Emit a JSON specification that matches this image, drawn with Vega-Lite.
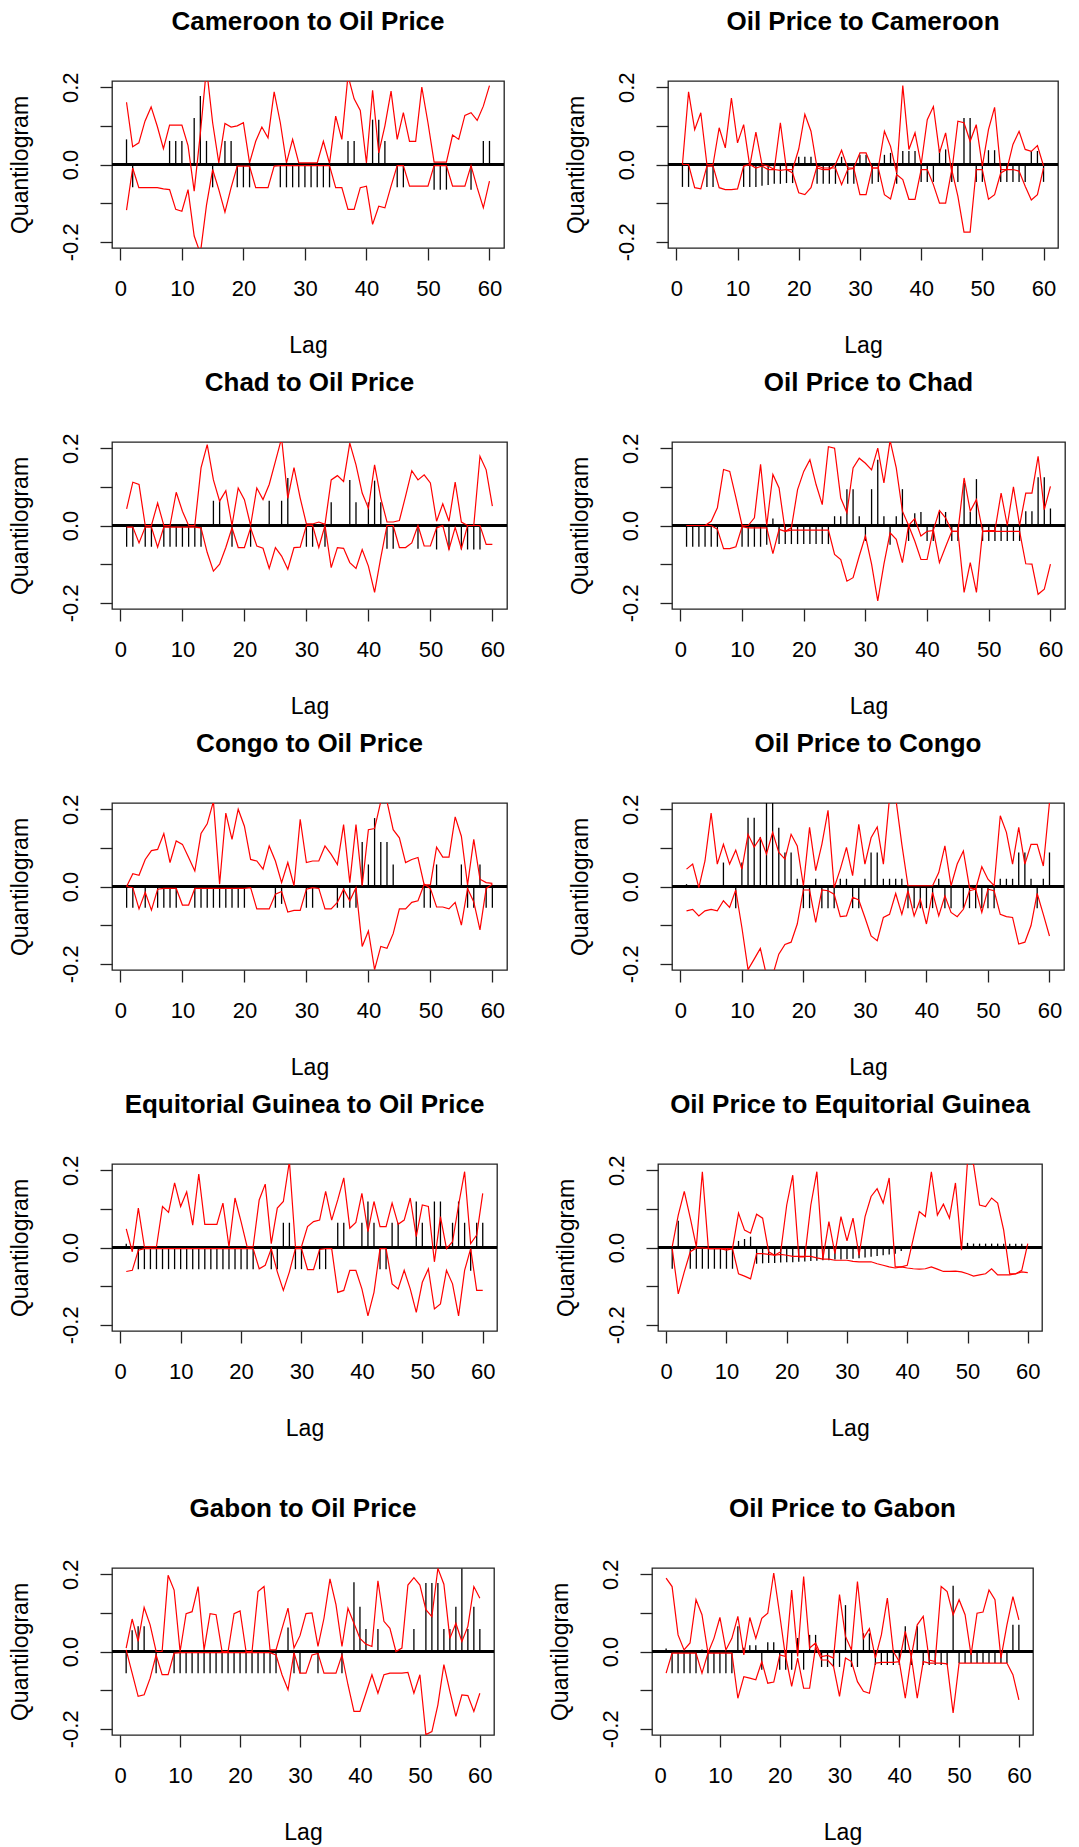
{
"$schema":"https://vega.github.io/schema/vega-lite/v6.json",
"background":"white",
"padding":{"left":8,"top":8,"right":0,"bottom":0},
"data":{"values":[
{"p":1,"l":1,"q":0.065,"u":0.161,"d":-0.118},{"p":1,"l":2,"q":-0.059,"u":0.046,"d":-0.009},{"p":1,"l":3,"q":0.003,"u":0.056,"d":-0.06},{"p":1,"l":4,"q":0.003,"u":0.112,"d":-0.06},{"p":1,"l":5,"q":0.003,"u":0.149,"d":-0.06},{"p":1,"l":6,"q":0.003,"u":0.099,"d":-0.06},{"p":1,"l":7,"q":0.003,"u":0.041,"d":-0.063},{"p":1,"l":8,"q":0.061,"u":0.102,"d":-0.065},{"p":1,"l":9,"q":0.061,"u":0.102,"d":-0.116},{"p":1,"l":10,"q":0.061,"u":0.102,"d":-0.121},
{"p":1,"l":11,"q":0.003,"u":0.049,"d":-0.065},{"p":1,"l":12,"q":0.12,"u":-0.069,"d":-0.185},{"p":1,"l":13,"q":0.177,"u":0.08,"d":-0.23},{"p":1,"l":14,"q":0.061,"u":0.25,"d":-0.105},{"p":1,"l":15,"q":-0.059,"u":0.108,"d":-0.013},{"p":1,"l":16,"q":0,"u":0.004,"d":-0.065},{"p":1,"l":17,"q":0.061,"u":0.106,"d":-0.123},{"p":1,"l":18,"q":0.061,"u":0.097,"d":-0.06},{"p":1,"l":19,"q":-0.059,"u":0.1,"d":-0.004},{"p":1,"l":20,"q":-0.059,"u":0.108,"d":-0.004},
{"p":1,"l":21,"q":-0.059,"u":0.004,"d":-0.004},{"p":1,"l":22,"q":0.003,"u":0.06,"d":-0.06},{"p":1,"l":23,"q":0.003,"u":0.097,"d":-0.06},{"p":1,"l":24,"q":0.003,"u":0.069,"d":-0.06},{"p":1,"l":25,"q":0.003,"u":0.188,"d":-0.004},{"p":1,"l":26,"q":-0.059,"u":0.108,"d":-0.003},{"p":1,"l":27,"q":-0.059,"u":0.004,"d":-0.003},{"p":1,"l":28,"q":-0.059,"u":0.065,"d":-0.003},{"p":1,"l":29,"q":-0.059,"u":0.004,"d":-0.003},{"p":1,"l":30,"q":-0.059,"u":0.004,"d":-0.003},
{"p":1,"l":31,"q":-0.059,"u":0.004,"d":-0.003},{"p":1,"l":32,"q":-0.059,"u":0.004,"d":-0.003},{"p":1,"l":33,"q":-0.059,"u":0.06,"d":-0.003},{"p":1,"l":34,"q":-0.059,"u":0.003,"d":-0.003},{"p":1,"l":35,"q":0,"u":0.125,"d":-0.06},{"p":1,"l":36,"q":0,"u":0.065,"d":-0.06},{"p":1,"l":37,"q":0.061,"u":0.23,"d":-0.116},{"p":1,"l":38,"q":0.061,"u":0.17,"d":-0.116},{"p":1,"l":39,"q":0,"u":0.14,"d":-0.06},{"p":1,"l":40,"q":0,"u":0.004,"d":-0.056},
{"p":1,"l":41,"q":0.116,"u":0.192,"d":-0.155},{"p":1,"l":42,"q":0.116,"u":0.03,"d":-0.108},{"p":1,"l":43,"q":0.061,"u":0.1,"d":-0.112},{"p":1,"l":44,"q":0,"u":0.19,"d":-0.056},{"p":1,"l":45,"q":-0.059,"u":0.065,"d":-0.003},{"p":1,"l":46,"q":-0.059,"u":0.134,"d":-0.003},{"p":1,"l":47,"q":0,"u":0.06,"d":-0.056},{"p":1,"l":48,"q":0,"u":0.06,"d":-0.056},{"p":1,"l":49,"q":0,"u":0.2,"d":-0.056},{"p":1,"l":50,"q":0,"u":0.108,"d":-0.056},
{"p":1,"l":51,"q":-0.065,"u":0.006,"d":-0.003},{"p":1,"l":52,"q":-0.065,"u":0.006,"d":-0.003},{"p":1,"l":53,"q":-0.065,"u":0.006,"d":-0.003},{"p":1,"l":54,"q":0,"u":0.076,"d":-0.056},{"p":1,"l":55,"q":-0.003,"u":0.065,"d":-0.056},{"p":1,"l":56,"q":-0.003,"u":0.127,"d":-0.056},{"p":1,"l":57,"q":-0.065,"u":0.134,"d":-0.003},{"p":1,"l":58,"q":-0.003,"u":0.114,"d":-0.06},{"p":1,"l":59,"q":0.061,"u":0.151,"d":-0.112},{"p":1,"l":60,"q":0.061,"u":0.204,"d":-0.043},
{"p":2,"l":1,"q":-0.058,"u":0,"d":0},{"p":2,"l":2,"q":-0.058,"u":0.188,"d":0},{"p":2,"l":3,"q":0.003,"u":0.09,"d":-0.06},{"p":2,"l":4,"q":0.003,"u":0.134,"d":-0.063},{"p":2,"l":5,"q":-0.058,"u":0,"d":-0.004},{"p":2,"l":6,"q":-0.058,"u":0,"d":-0.004},{"p":2,"l":7,"q":0.003,"u":0.095,"d":-0.06},{"p":2,"l":8,"q":0.003,"u":0.043,"d":-0.065},{"p":2,"l":9,"q":0.003,"u":0.172,"d":-0.065},{"p":2,"l":10,"q":0.003,"u":0.056,"d":-0.063},
{"p":2,"l":11,"q":-0.058,"u":0.103,"d":-0.004},{"p":2,"l":12,"q":-0.058,"u":-0.004,"d":0},{"p":2,"l":13,"q":-0.058,"u":0.084,"d":-0.009},{"p":2,"l":14,"q":-0.055,"u":0,"d":-0.004},{"p":2,"l":15,"q":-0.053,"u":-0.004,"d":-0.013},{"p":2,"l":16,"q":-0.05,"u":-0.013,"d":-0.013},{"p":2,"l":17,"q":-0.05,"u":0.108,"d":-0.015},{"p":2,"l":18,"q":-0.048,"u":-0.013,"d":-0.013},{"p":2,"l":19,"q":-0.048,"u":-0.013,"d":-0.022},{"p":2,"l":20,"q":0.02,"u":0.04,"d":-0.073},
{"p":2,"l":21,"q":0.02,"u":0.13,"d":-0.078},{"p":2,"l":22,"q":0.02,"u":0.086,"d":-0.06},{"p":2,"l":23,"q":-0.05,"u":-0.009,"d":-0.004},{"p":2,"l":24,"q":-0.05,"u":-0.013,"d":-0.009},{"p":2,"l":25,"q":-0.05,"u":-0.013,"d":-0.009},{"p":2,"l":26,"q":-0.05,"u":0,"d":-0.009},{"p":2,"l":27,"q":0.02,"u":0.037,"d":-0.052},{"p":2,"l":28,"q":-0.05,"u":-0.009,"d":-0.013},{"p":2,"l":29,"q":-0.05,"u":-0.009,"d":-0.01},{"p":2,"l":30,"q":0.025,"u":0.03,"d":-0.078},
{"p":2,"l":31,"q":0.025,"u":0.03,"d":-0.078},{"p":2,"l":32,"q":-0.05,"u":-0.009,"d":-0.009},{"p":2,"l":33,"q":-0.045,"u":-0.009,"d":-0.009},{"p":2,"l":34,"q":0.025,"u":0.086,"d":-0.078},{"p":2,"l":35,"q":0.03,"u":0.047,"d":-0.089},{"p":2,"l":36,"q":-0.05,"u":-0.022,"d":-0.026},{"p":2,"l":37,"q":0.035,"u":0.204,"d":-0.039},{"p":2,"l":38,"q":0.035,"u":0.039,"d":-0.09},{"p":2,"l":39,"q":0.035,"u":0.082,"d":-0.09},{"p":2,"l":40,"q":-0.045,"u":0,"d":-0.013},
{"p":2,"l":41,"q":-0.045,"u":0.116,"d":-0.013},{"p":2,"l":42,"q":-0.045,"u":0.15,"d":-0.052},{"p":2,"l":43,"q":0.039,"u":0.03,"d":-0.1},{"p":2,"l":44,"q":0.039,"u":0.082,"d":-0.1},{"p":2,"l":45,"q":-0.045,"u":-0.02,"d":-0.013},{"p":2,"l":46,"q":-0.045,"u":0.112,"d":-0.082},{"p":2,"l":47,"q":0.12,"u":0.108,"d":-0.175},{"p":2,"l":48,"q":0.12,"u":0.06,"d":-0.175},{"p":2,"l":49,"q":-0.045,"u":0.103,"d":-0.013},{"p":2,"l":50,"q":-0.045,"u":-0.004,"d":-0.013},
{"p":2,"l":51,"q":0.037,"u":0.09,"d":-0.09},{"p":2,"l":52,"q":0.037,"u":0.148,"d":-0.078},{"p":2,"l":53,"q":-0.045,"u":-0.013,"d":-0.022},{"p":2,"l":54,"q":-0.045,"u":-0.013,"d":-0.013},{"p":2,"l":55,"q":-0.045,"u":0.052,"d":-0.013},{"p":2,"l":56,"q":-0.045,"u":0.086,"d":-0.017},{"p":2,"l":57,"q":-0.045,"u":0.039,"d":-0.056},{"p":2,"l":58,"q":0.035,"u":0.034,"d":-0.092},{"p":2,"l":59,"q":0.035,"u":0.049,"d":-0.078},{"p":2,"l":60,"q":-0.045,"u":-0.004,"d":-0.009},
{"p":3,"l":1,"q":-0.055,"u":0.043,"d":-0.004},{"p":3,"l":2,"q":-0.055,"u":0.112,"d":-0.004},{"p":3,"l":3,"q":0.003,"u":0.106,"d":-0.045},{"p":3,"l":4,"q":-0.055,"u":0,"d":-0.004},{"p":3,"l":5,"q":-0.055,"u":0,"d":-0.004},{"p":3,"l":6,"q":0.003,"u":0.058,"d":-0.056},{"p":3,"l":7,"q":-0.055,"u":0,"d":-0.004},{"p":3,"l":8,"q":-0.055,"u":0,"d":-0.004},{"p":3,"l":9,"q":-0.055,"u":0.086,"d":-0.004},{"p":3,"l":10,"q":-0.055,"u":0.037,"d":-0.004},
{"p":3,"l":11,"q":-0.055,"u":0,"d":-0.004},{"p":3,"l":12,"q":-0.055,"u":0,"d":-0.004},{"p":3,"l":13,"q":-0.055,"u":0.149,"d":-0.006},{"p":3,"l":14,"q":0.003,"u":0.209,"d":-0.07},{"p":3,"l":15,"q":0.064,"u":0.118,"d":-0.118},{"p":3,"l":16,"q":0.064,"u":0.063,"d":-0.1},{"p":3,"l":17,"q":0.003,"u":0.09,"d":-0.057},{"p":3,"l":18,"q":-0.055,"u":0,"d":-0.006},{"p":3,"l":19,"q":0.003,"u":0.097,"d":-0.057},{"p":3,"l":20,"q":0.003,"u":0.067,"d":-0.057},
{"p":3,"l":21,"q":-0.055,"u":0,"d":-0.006},{"p":3,"l":22,"q":0.003,"u":0.097,"d":-0.053},{"p":3,"l":23,"q":0.003,"u":0.067,"d":-0.059},{"p":3,"l":24,"q":0.064,"u":0.106,"d":-0.111},{"p":3,"l":25,"q":0.003,"u":0.166,"d":-0.057},{"p":3,"l":26,"q":0.064,"u":0.226,"d":-0.079},{"p":3,"l":27,"q":0.123,"u":0.07,"d":-0.113},{"p":3,"l":28,"q":0.003,"u":0.15,"d":-0.057},{"p":3,"l":29,"q":0,"u":0.071,"d":-0.056},{"p":3,"l":30,"q":-0.055,"u":0.004,"d":0},
{"p":3,"l":31,"q":-0.055,"u":0.004,"d":0},{"p":3,"l":32,"q":0,"u":0.009,"d":-0.057},{"p":3,"l":33,"q":-0.055,"u":0.003,"d":0},{"p":3,"l":34,"q":0.06,"u":0.118,"d":-0.109},{"p":3,"l":35,"q":0,"u":0.129,"d":-0.057},{"p":3,"l":36,"q":0,"u":0.114,"d":-0.059},{"p":3,"l":37,"q":0.118,"u":0.213,"d":-0.096},{"p":3,"l":38,"q":0.06,"u":0.157,"d":-0.111},{"p":3,"l":39,"q":0,"u":0.084,"d":-0.062},{"p":3,"l":40,"q":0.06,"u":0.045,"d":-0.105},
{"p":3,"l":41,"q":0.116,"u":0.157,"d":-0.173},{"p":3,"l":42,"q":0.06,"u":0.071,"d":-0.083},{"p":3,"l":43,"q":-0.06,"u":0.009,"d":0},{"p":3,"l":44,"q":-0.06,"u":0.009,"d":0},{"p":3,"l":45,"q":0,"u":0.013,"d":-0.057},{"p":3,"l":46,"q":0,"u":0.076,"d":-0.057},{"p":3,"l":47,"q":0,"u":0.142,"d":-0.045},{"p":3,"l":48,"q":-0.06,"u":0.118,"d":0},{"p":3,"l":49,"q":0,"u":0.131,"d":-0.053},{"p":3,"l":50,"q":0,"u":0.11,"d":-0.053},
{"p":3,"l":51,"q":-0.062,"u":0.011,"d":-0.006},{"p":3,"l":52,"q":0,"u":0.056,"d":0},{"p":3,"l":53,"q":-0.062,"u":0.011,"d":-0.062},{"p":3,"l":54,"q":0,"u":0.112,"d":-0.005},{"p":3,"l":55,"q":-0.062,"u":0.009,"d":-0.06},{"p":3,"l":56,"q":-0.062,"u":0,"d":0},{"p":3,"l":57,"q":-0.062,"u":0,"d":0},{"p":3,"l":58,"q":-0.062,"u":0.179,"d":0},{"p":3,"l":59,"q":-0.003,"u":0.144,"d":-0.049},{"p":3,"l":60,"q":-0.003,"u":0.05,"d":-0.049},
{"p":4,"l":1,"q":-0.055,"u":0,"d":0},{"p":4,"l":2,"q":-0.055,"u":0,"d":0},{"p":4,"l":3,"q":-0.055,"u":0,"d":0},{"p":4,"l":4,"q":-0.055,"u":0,"d":0},{"p":4,"l":5,"q":-0.055,"u":0.011,"d":0},{"p":4,"l":6,"q":-0.055,"u":0.046,"d":-0.01},{"p":4,"l":7,"q":0.003,"u":0.145,"d":-0.06},{"p":4,"l":8,"q":0.003,"u":0.14,"d":-0.06},{"p":4,"l":9,"q":0.003,"u":0.072,"d":-0.055},{"p":4,"l":10,"q":-0.055,"u":0,"d":-0.003},
{"p":4,"l":11,"q":-0.055,"u":0,"d":-0.006},{"p":4,"l":12,"q":-0.055,"u":0.02,"d":-0.006},{"p":4,"l":13,"q":-0.055,"u":0.158,"d":-0.006},{"p":4,"l":14,"q":-0.05,"u":0,"d":-0.006},{"p":4,"l":15,"q":0.018,"u":0.132,"d":-0.073},{"p":4,"l":16,"q":-0.048,"u":0.097,"d":-0.01},{"p":4,"l":17,"q":-0.048,"u":-0.015,"d":-0.015},{"p":4,"l":18,"q":-0.048,"u":-0.006,"d":-0.012},{"p":4,"l":19,"q":-0.048,"u":0.093,"d":-0.012},{"p":4,"l":20,"q":-0.048,"u":0.14,"d":-0.012},
{"p":4,"l":21,"q":-0.048,"u":0.17,"d":-0.012},{"p":4,"l":22,"q":-0.048,"u":0.106,"d":-0.012},{"p":4,"l":23,"q":-0.048,"u":0.054,"d":-0.012},{"p":4,"l":24,"q":-0.048,"u":0.204,"d":-0.012},{"p":4,"l":25,"q":0.024,"u":0.2,"d":-0.075},{"p":4,"l":26,"q":0.024,"u":0.071,"d":-0.088},{"p":4,"l":27,"q":0.094,"u":0.033,"d":-0.144},{"p":4,"l":28,"q":0.094,"u":0.149,"d":-0.135},{"p":4,"l":29,"q":0.024,"u":0.174,"d":-0.079},{"p":4,"l":30,"q":-0.04,"u":0.161,"d":-0.027},
{"p":4,"l":31,"q":0.094,"u":0.144,"d":-0.1},{"p":4,"l":32,"q":0.17,"u":0.2,"d":-0.195},{"p":4,"l":33,"q":0.024,"u":0.11,"d":-0.1},{"p":4,"l":34,"q":-0.05,"u":0.22,"d":-0.019},{"p":4,"l":35,"q":0.024,"u":0.149,"d":-0.036},{"p":4,"l":36,"q":0.094,"u":0.037,"d":-0.096},{"p":4,"l":37,"q":-0.04,"u":0,"d":0},{"p":4,"l":38,"q":0.032,"u":0.018,"d":-0.04},{"p":4,"l":39,"q":0.035,"u":-0.027,"d":-0.088},{"p":4,"l":40,"q":-0.04,"u":-0.015,"d":-0.088},
{"p":4,"l":41,"q":-0.04,"u":-0.013,"d":-0.01},{"p":4,"l":42,"q":0.035,"u":0.039,"d":-0.096},{"p":4,"l":43,"q":0.035,"u":0.02,"d":-0.055},{"p":4,"l":44,"q":-0.04,"u":-0.015,"d":-0.015},{"p":4,"l":45,"q":-0.04,"u":-0.015,"d":-0.015},{"p":4,"l":46,"q":0.11,"u":0.123,"d":-0.173},{"p":4,"l":47,"q":0.035,"u":0.037,"d":-0.096},{"p":4,"l":48,"q":0.12,"u":0.067,"d":-0.173},{"p":4,"l":49,"q":-0.04,"u":-0.015,"d":-0.015},{"p":4,"l":50,"q":-0.04,"u":-0.013,"d":-0.015},
{"p":4,"l":51,"q":-0.04,"u":-0.013,"d":-0.015},{"p":4,"l":52,"q":-0.04,"u":0.084,"d":-0.015},{"p":4,"l":53,"q":-0.04,"u":0,"d":-0.015},{"p":4,"l":54,"q":-0.04,"u":0.1,"d":-0.015},{"p":4,"l":55,"q":-0.04,"u":0,"d":-0.015},{"p":4,"l":56,"q":0.037,"u":0.084,"d":-0.099},{"p":4,"l":57,"q":0.037,"u":0.084,"d":-0.1},{"p":4,"l":58,"q":0.125,"u":0.179,"d":-0.178},{"p":4,"l":59,"q":0.125,"u":0.041,"d":-0.165},{"p":4,"l":60,"q":0.044,"u":0.101,"d":-0.1},
{"p":5,"l":1,"q":-0.055,"u":0,"d":0},{"p":5,"l":2,"q":-0.055,"u":0.033,"d":-0.003},{"p":5,"l":3,"q":0.003,"u":0.029,"d":-0.058},{"p":5,"l":4,"q":-0.055,"u":0.07,"d":-0.015},{"p":5,"l":5,"q":0.003,"u":0.093,"d":-0.061},{"p":5,"l":6,"q":-0.055,"u":0.096,"d":-0.007},{"p":5,"l":7,"q":-0.055,"u":0.137,"d":-0.005},{"p":5,"l":8,"q":-0.055,"u":0.062,"d":-0.005},{"p":5,"l":9,"q":-0.055,"u":0.118,"d":-0.005},{"p":5,"l":10,"q":0.003,"u":0.109,"d":-0.048},
{"p":5,"l":11,"q":0.003,"u":0.075,"d":-0.048},{"p":5,"l":12,"q":-0.055,"u":0.04,"d":-0.005},{"p":5,"l":13,"q":-0.055,"u":0.137,"d":-0.005},{"p":5,"l":14,"q":-0.055,"u":0.162,"d":-0.005},{"p":5,"l":15,"q":-0.055,"u":0.22,"d":-0.005},{"p":5,"l":16,"q":-0.055,"u":0.006,"d":-0.005},{"p":5,"l":17,"q":-0.055,"u":0.19,"d":-0.005},{"p":5,"l":18,"q":-0.055,"u":0.122,"d":-0.005},{"p":5,"l":19,"q":-0.055,"u":0.2,"d":-0.005},{"p":5,"l":20,"q":-0.055,"u":0.156,"d":-0.005},
{"p":5,"l":21,"q":0.003,"u":0.07,"d":-0.003},{"p":5,"l":22,"q":0.003,"u":0.066,"d":-0.058},{"p":5,"l":23,"q":0.003,"u":0.045,"d":-0.058},{"p":5,"l":24,"q":0.003,"u":0.105,"d":-0.058},{"p":5,"l":25,"q":-0.055,"u":0.066,"d":-0.02},{"p":5,"l":26,"q":-0.045,"u":0.01,"d":-0.013},{"p":5,"l":27,"q":0.003,"u":0.062,"d":-0.066},{"p":5,"l":28,"q":0,"u":0.002,"d":-0.062},{"p":5,"l":29,"q":0,"u":0.174,"d":-0.062},{"p":5,"l":30,"q":-0.055,"u":0.062,"d":-0.007},
{"p":5,"l":31,"q":-0.055,"u":0.066,"d":-0.003},{"p":5,"l":32,"q":0,"u":0.066,"d":-0.005},{"p":5,"l":33,"q":0,"u":0.105,"d":-0.058},{"p":5,"l":34,"q":0,"u":0.083,"d":-0.058},{"p":5,"l":35,"q":-0.055,"u":0.057,"d":-0.041},{"p":5,"l":36,"q":-0.055,"u":0.16,"d":-0.007},{"p":5,"l":37,"q":-0.055,"u":0.01,"d":-0.037},{"p":5,"l":38,"q":-0.055,"u":0.16,"d":-0.003},{"p":5,"l":39,"q":0.115,"u":0.002,"d":-0.155},{"p":5,"l":40,"q":0.057,"u":0.147,"d":-0.115},
{"p":5,"l":41,"q":0.177,"u":0.15,"d":-0.215},{"p":5,"l":42,"q":0.115,"u":0.22,"d":-0.155},{"p":5,"l":43,"q":0.115,"u":0.22,"d":-0.16},{"p":5,"l":44,"q":0.057,"u":0.147,"d":-0.122},{"p":5,"l":45,"q":0,"u":0.126,"d":-0.058},{"p":5,"l":46,"q":0,"u":0.062,"d":-0.058},{"p":5,"l":47,"q":0,"u":0.07,"d":-0.041},{"p":5,"l":48,"q":0,"u":0.075,"d":-0.037},{"p":5,"l":49,"q":-0.055,"u":0.004,"d":0.006},{"p":5,"l":50,"q":-0.055,"u":0.004,"d":-0.005},
{"p":5,"l":51,"q":0.057,"u":0.102,"d":-0.053},{"p":5,"l":52,"q":0,"u":0.076,"d":-0.053},{"p":5,"l":53,"q":0,"u":0.076,"d":-0.058},{"p":5,"l":54,"q":0,"u":0.18,"d":-0.041},{"p":5,"l":55,"q":0.057,"u":0.13,"d":-0.1},{"p":5,"l":56,"q":-0.055,"u":0.004,"d":-0.005},{"p":5,"l":57,"q":-0.055,"u":0.122,"d":-0.04},{"p":5,"l":58,"q":0.057,"u":0.019,"d":-0.112},{"p":5,"l":59,"q":-0.055,"u":0.01,"d":-0.005},{"p":5,"l":60,"q":-0.055,"u":0.008,"d":0.006},
{"p":6,"l":1,"q":0.006,"u":0.045,"d":-0.063},{"p":6,"l":2,"q":0.003,"u":0.058,"d":-0.059},{"p":6,"l":3,"q":0,"u":-0.003,"d":-0.076},{"p":6,"l":4,"q":0.003,"u":0.066,"d":-0.063},{"p":6,"l":5,"q":0.003,"u":0.19,"d":-0.059},{"p":6,"l":6,"q":0.003,"u":0.058,"d":-0.063},{"p":6,"l":7,"q":0.062,"u":0.109,"d":-0.037},{"p":6,"l":8,"q":0.003,"u":0.058,"d":-0.054},{"p":6,"l":9,"q":-0.056,"u":0.094,"d":-0.009},{"p":6,"l":10,"q":0.062,"u":0.045,"d":-0.106},
{"p":6,"l":11,"q":0.178,"u":0.135,"d":-0.215},{"p":6,"l":12,"q":0.178,"u":0.102,"d":-0.188},{"p":6,"l":13,"q":0.128,"u":0.126,"d":-0.16},{"p":6,"l":14,"q":0.22,"u":0.084,"d":-0.23},{"p":6,"l":15,"q":0.22,"u":0.14,"d":-0.23},{"p":6,"l":16,"q":0.152,"u":0.088,"d":-0.175},{"p":6,"l":17,"q":0.088,"u":0.071,"d":-0.15},{"p":6,"l":18,"q":0.088,"u":0.135,"d":-0.144},{"p":6,"l":19,"q":0.02,"u":0.105,"d":-0.097},{"p":6,"l":20,"q":-0.056,"u":0.002,"d":-0.009},
{"p":6,"l":21,"q":-0.056,"u":0.153,"d":-0.009},{"p":6,"l":22,"q":0.02,"u":0.041,"d":-0.093},{"p":6,"l":23,"q":-0.056,"u":0.109,"d":-0.009},{"p":6,"l":24,"q":-0.056,"u":0.197,"d":-0.011},{"p":6,"l":25,"q":-0.056,"u":-0.003,"d":-0.02},{"p":6,"l":26,"q":0.02,"u":0.045,"d":-0.078},{"p":6,"l":27,"q":0.02,"u":0.101,"d":-0.076},{"p":6,"l":28,"q":-0.056,"u":0.028,"d":-0.028},{"p":6,"l":29,"q":-0.056,"u":0.161,"d":-0.035},{"p":6,"l":30,"q":0.02,"u":0.058,"d":-0.08},
{"p":6,"l":31,"q":0.088,"u":0.126,"d":-0.128},{"p":6,"l":32,"q":0.088,"u":0.154,"d":-0.14},{"p":6,"l":33,"q":0.02,"u":0.058,"d":-0.08},{"p":6,"l":34,"q":0.02,"u":0.23,"d":-0.072},{"p":6,"l":35,"q":0.02,"u":0.23,"d":-0.018},{"p":6,"l":36,"q":0.02,"u":0.109,"d":-0.072},{"p":6,"l":37,"q":-0.056,"u":0.002,"d":-0.011},{"p":6,"l":38,"q":-0.056,"u":0.002,"d":-0.076},{"p":6,"l":39,"q":-0.056,"u":0.002,"d":-0.033},{"p":6,"l":40,"q":-0.056,"u":0.002,"d":-0.097},
{"p":6,"l":41,"q":-0.056,"u":0.002,"d":-0.015},{"p":6,"l":42,"q":0.02,"u":0.036,"d":-0.076},{"p":6,"l":43,"q":-0.056,"u":0.105,"d":-0.024},{"p":6,"l":44,"q":-0.056,"u":0.002,"d":-0.067},{"p":6,"l":45,"q":0,"u":0.058,"d":-0.078},{"p":6,"l":46,"q":-0.056,"u":0.092,"d":-0.059},{"p":6,"l":47,"q":-0.056,"u":-0.003,"d":-0.011},{"p":6,"l":48,"q":-0.056,"u":-0.007,"d":-0.007},{"p":6,"l":49,"q":-0.056,"u":0.051,"d":-0.067},{"p":6,"l":50,"q":-0.056,"u":0.019,"d":-0.007},
{"p":6,"l":51,"q":-0.056,"u":0.002,"d":-0.011},{"p":6,"l":52,"q":0.02,"u":0.183,"d":-0.072},{"p":6,"l":53,"q":0.02,"u":0.14,"d":-0.078},{"p":6,"l":54,"q":0.02,"u":0.058,"d":-0.08},{"p":6,"l":55,"q":0.088,"u":0.153,"d":-0.149},{"p":6,"l":56,"q":0.088,"u":0.058,"d":-0.144},{"p":6,"l":57,"q":0.02,"u":0.109,"d":-0.101},{"p":6,"l":58,"q":-0.056,"u":0.109,"d":-0.018},{"p":6,"l":59,"q":0.02,"u":0.053,"d":-0.072},{"p":6,"l":60,"q":0.088,"u":0.217,"d":-0.128},
{"p":7,"l":1,"q":0.01,"u":0.048,"d":-0.062},{"p":7,"l":2,"q":0,"u":-0.011,"d":-0.059},{"p":7,"l":3,"q":-0.056,"u":0.102,"d":-0.007},{"p":7,"l":4,"q":-0.056,"u":0.002,"d":-0.003},{"p":7,"l":5,"q":-0.056,"u":0.002,"d":-0.003},{"p":7,"l":6,"q":-0.056,"u":0.002,"d":-0.003},{"p":7,"l":7,"q":-0.056,"u":0.106,"d":-0.003},{"p":7,"l":8,"q":-0.056,"u":0.091,"d":-0.003},{"p":7,"l":9,"q":-0.056,"u":0.167,"d":-0.003},{"p":7,"l":10,"q":-0.056,"u":0.106,"d":-0.003},
{"p":7,"l":11,"q":-0.056,"u":0.144,"d":-0.003},{"p":7,"l":12,"q":-0.056,"u":0.058,"d":-0.003},{"p":7,"l":13,"q":-0.056,"u":0.19,"d":-0.003},{"p":7,"l":14,"q":-0.056,"u":0.06,"d":-0.003},{"p":7,"l":15,"q":-0.056,"u":0.06,"d":-0.003},{"p":7,"l":16,"q":-0.056,"u":0.06,"d":-0.003},{"p":7,"l":17,"q":-0.056,"u":0.115,"d":-0.003},{"p":7,"l":18,"q":-0.056,"u":0.002,"d":-0.003},{"p":7,"l":19,"q":-0.056,"u":0.128,"d":-0.003},{"p":7,"l":20,"q":-0.056,"u":0.067,"d":-0.003},
{"p":7,"l":21,"q":-0.056,"u":0.002,"d":-0.003},{"p":7,"l":22,"q":-0.056,"u":0.002,"d":-0.003},{"p":7,"l":23,"q":0.003,"u":0.123,"d":-0.055},{"p":7,"l":24,"q":0.003,"u":0.164,"d":-0.046},{"p":7,"l":25,"q":-0.056,"u":0.01,"d":-0.003},{"p":7,"l":26,"q":-0.056,"u":0.102,"d":-0.063},{"p":7,"l":27,"q":0.064,"u":0.119,"d":-0.111},{"p":7,"l":28,"q":0.064,"u":0.223,"d":-0.063},{"p":7,"l":29,"q":-0.056,"u":0.002,"d":-0.003},{"p":7,"l":30,"q":-0.056,"u":0.002,"d":-0.003},
{"p":7,"l":31,"q":0,"u":0.054,"d":-0.057},{"p":7,"l":32,"q":0,"u":0.067,"d":-0.057},{"p":7,"l":33,"q":-0.056,"u":0.071,"d":-0.005},{"p":7,"l":34,"q":-0.056,"u":0.145,"d":-0.003},{"p":7,"l":35,"q":0,"u":0.071,"d":-0.003},{"p":7,"l":36,"q":0.064,"u":0.123,"d":-0.116},{"p":7,"l":37,"q":0.064,"u":0.18,"d":-0.111},{"p":7,"l":38,"q":0,"u":0.05,"d":-0.059},{"p":7,"l":39,"q":0,"u":0.065,"d":-0.059},{"p":7,"l":40,"q":0.064,"u":0.14,"d":-0.107},
{"p":7,"l":41,"q":0.119,"u":0.041,"d":-0.177},{"p":7,"l":42,"q":0.064,"u":0.119,"d":-0.116},{"p":7,"l":43,"q":-0.056,"u":0.054,"d":-0.003},{"p":7,"l":44,"q":-0.056,"u":0.054,"d":-0.003},{"p":7,"l":45,"q":0.064,"u":0.115,"d":-0.094},{"p":7,"l":46,"q":0.064,"u":0.06,"d":-0.107},{"p":7,"l":47,"q":0,"u":0.071,"d":-0.059},{"p":7,"l":48,"q":0,"u":0.128,"d":-0.107},{"p":7,"l":49,"q":0.119,"u":0.028,"d":-0.168},{"p":7,"l":50,"q":0.064,"u":0.11,"d":-0.09},
{"p":7,"l":51,"q":0,"u":0.106,"d":-0.055},{"p":7,"l":52,"q":0.119,"u":-0.037,"d":-0.159},{"p":7,"l":53,"q":0.119,"u":0.08,"d":-0.146},{"p":7,"l":54,"q":0,"u":-0.003,"d":-0.059},{"p":7,"l":55,"q":0.064,"u":0.015,"d":-0.094},{"p":7,"l":56,"q":0.119,"u":0.11,"d":-0.177},{"p":7,"l":57,"q":0.064,"u":0.196,"d":-0.059},{"p":7,"l":58,"q":-0.06,"u":0.01,"d":-0.003},{"p":7,"l":59,"q":0.064,"u":0.032,"d":-0.111},{"p":7,"l":60,"q":0.064,"u":0.14,"d":-0.111},
{"p":8,"l":1,"q":-0.055,"u":0.002,"d":-0.003},{"p":8,"l":2,"q":0.069,"u":0.084,"d":-0.12},{"p":8,"l":3,"q":0.003,"u":0.145,"d":-0.063},{"p":8,"l":4,"q":-0.055,"u":0.076,"d":-0.011},{"p":8,"l":5,"q":-0.055,"u":0.002,"d":-0.001},{"p":8,"l":6,"q":-0.055,"u":0.196,"d":-0.001},{"p":8,"l":7,"q":-0.055,"u":-0.003,"d":-0.003},{"p":8,"l":8,"q":-0.055,"u":-0.003,"d":-0.003},{"p":8,"l":9,"q":-0.055,"u":-0.003,"d":-0.003},{"p":8,"l":10,"q":-0.055,"u":-0.007,"d":-0.003},
{"p":8,"l":11,"q":-0.055,"u":-0.003,"d":-0.003},{"p":8,"l":12,"q":0.017,"u":0.089,"d":-0.068},{"p":8,"l":13,"q":0.022,"u":0.045,"d":-0.074},{"p":8,"l":14,"q":0.028,"u":0.037,"d":-0.081},{"p":8,"l":15,"q":-0.042,"u":0.086,"d":-0.016},{"p":8,"l":16,"q":-0.041,"u":0.076,"d":-0.016},{"p":8,"l":17,"q":-0.04,"u":-0.011,"d":-0.018},{"p":8,"l":18,"q":-0.04,"u":-0.02,"d":-0.02},{"p":8,"l":19,"q":-0.039,"u":-0.011,"d":-0.018},{"p":8,"l":20,"q":-0.038,"u":0.11,"d":-0.02},
{"p":8,"l":21,"q":-0.038,"u":0.187,"d":-0.023},{"p":8,"l":22,"q":-0.037,"u":-0.024,"d":-0.023},{"p":8,"l":23,"q":-0.036,"u":-0.024,"d":-0.023},{"p":8,"l":24,"q":-0.035,"u":0.11,"d":-0.023},{"p":8,"l":25,"q":-0.034,"u":0.196,"d":-0.027},{"p":8,"l":26,"q":-0.033,"u":-0.029,"d":-0.03},{"p":8,"l":27,"q":-0.033,"u":0.067,"d":-0.03},{"p":8,"l":28,"q":-0.031,"u":-0.016,"d":-0.033},{"p":8,"l":29,"q":-0.031,"u":0.08,"d":-0.033},{"p":8,"l":30,"q":-0.03,"u":0.017,"d":-0.033},
{"p":8,"l":31,"q":-0.029,"u":0.076,"d":-0.036},{"p":8,"l":32,"q":-0.028,"u":-0.02,"d":-0.037},{"p":8,"l":33,"q":-0.026,"u":0.08,"d":-0.037},{"p":8,"l":34,"q":-0.024,"u":0.132,"d":-0.037},{"p":8,"l":35,"q":-0.022,"u":0.152,"d":-0.042},{"p":8,"l":36,"q":-0.02,"u":0.115,"d":-0.046},{"p":8,"l":37,"q":-0.018,"u":0.18,"d":-0.05},{"p":8,"l":38,"q":-0.016,"u":-0.05,"d":-0.053},{"p":8,"l":39,"q":-0.009,"u":-0.05,"d":-0.05},{"p":8,"l":40,"q":0,"u":-0.046,"d":-0.053},
{"p":8,"l":41,"q":0,"u":0.023,"d":-0.055},{"p":8,"l":42,"q":0,"u":0.093,"d":-0.056},{"p":8,"l":43,"q":0,"u":0.08,"d":-0.055},{"p":8,"l":44,"q":0,"u":0.196,"d":-0.05},{"p":8,"l":45,"q":0,"u":0.084,"d":-0.056},{"p":8,"l":46,"q":0.003,"u":0.112,"d":-0.062},{"p":8,"l":47,"q":0.003,"u":0.076,"d":-0.062},{"p":8,"l":48,"q":0.003,"u":0.167,"d":-0.061},{"p":8,"l":49,"q":0.005,"u":-0.007,"d":-0.063},{"p":8,"l":50,"q":0.012,"u":0.223,"d":-0.068},
{"p":8,"l":51,"q":0.01,"u":0.215,"d":-0.074},{"p":8,"l":52,"q":0.01,"u":0.11,"d":-0.071},{"p":8,"l":53,"q":0.01,"u":0.106,"d":-0.068},{"p":8,"l":54,"q":0.01,"u":0.128,"d":-0.055},{"p":8,"l":55,"q":0.01,"u":0.115,"d":-0.071},{"p":8,"l":56,"q":0.01,"u":0.045,"d":-0.071},{"p":8,"l":57,"q":0.01,"u":-0.068,"d":-0.071},{"p":8,"l":58,"q":0.01,"u":-0.068,"d":-0.068},{"p":8,"l":59,"q":0.01,"u":-0.059,"d":-0.063},{"p":8,"l":60,"q":0,"u":0.01,"d":-0.065},
{"p":9,"l":1,"q":-0.056,"u":0.009,"d":0.004},{"p":9,"l":2,"q":0.055,"u":0.084,"d":-0.056},{"p":9,"l":3,"q":0.065,"u":0.026,"d":-0.116},{"p":9,"l":4,"q":0.065,"u":0.114,"d":-0.112},{"p":9,"l":5,"q":0.003,"u":0.069,"d":-0.069},{"p":9,"l":6,"q":-0.056,"u":0,"d":-0.009},{"p":9,"l":7,"q":0,"u":0,"d":-0.06},{"p":9,"l":8,"q":0.003,"u":0.197,"d":-0.06},{"p":9,"l":9,"q":-0.056,"u":0.159,"d":-0.004},{"p":9,"l":10,"q":-0.056,"u":0,"d":-0.003},
{"p":9,"l":11,"q":-0.056,"u":0.098,"d":-0.003},{"p":9,"l":12,"q":-0.056,"u":0.103,"d":-0.003},{"p":9,"l":13,"q":-0.056,"u":0.168,"d":-0.003},{"p":9,"l":14,"q":-0.056,"u":0.004,"d":-0.003},{"p":9,"l":15,"q":-0.056,"u":0.098,"d":-0.003},{"p":9,"l":16,"q":-0.056,"u":0.095,"d":-0.003},{"p":9,"l":17,"q":-0.056,"u":0,"d":-0.003},{"p":9,"l":18,"q":-0.056,"u":0,"d":-0.003},{"p":9,"l":19,"q":-0.056,"u":0.098,"d":-0.003},{"p":9,"l":20,"q":-0.056,"u":0.105,"d":-0.003},
{"p":9,"l":21,"q":-0.056,"u":0,"d":-0.003},{"p":9,"l":22,"q":-0.056,"u":0,"d":-0.003},{"p":9,"l":23,"q":-0.056,"u":0.155,"d":-0.003},{"p":9,"l":24,"q":-0.056,"u":0.168,"d":-0.003},{"p":9,"l":25,"q":-0.056,"u":0.004,"d":-0.003},{"p":9,"l":26,"q":-0.056,"u":0.004,"d":-0.009},{"p":9,"l":27,"q":0.003,"u":0.059,"d":-0.06},{"p":9,"l":28,"q":0.062,"u":0.112,"d":-0.099},{"p":9,"l":29,"q":-0.056,"u":0.009,"d":-0.003},{"p":9,"l":30,"q":-0.056,"u":0.041,"d":-0.056},
{"p":9,"l":31,"q":0,"u":0.098,"d":-0.056},{"p":9,"l":32,"q":0,"u":0.1,"d":-0.009},{"p":9,"l":33,"q":-0.056,"u":0.013,"d":-0.005},{"p":9,"l":34,"q":0,"u":0.086,"d":-0.056},{"p":9,"l":35,"q":0,"u":0.188,"d":-0.056},{"p":9,"l":36,"q":0,"u":0.121,"d":-0.056},{"p":9,"l":37,"q":-0.056,"u":0.013,"d":-0.009},{"p":9,"l":38,"q":0,"u":0.112,"d":-0.086},{"p":9,"l":39,"q":0.179,"u":0.073,"d":-0.155},{"p":9,"l":40,"q":0.116,"u":0.034,"d":-0.155},
{"p":9,"l":41,"q":0.058,"u":0.019,"d":-0.108},{"p":9,"l":42,"q":0,"u":0.013,"d":-0.06},{"p":9,"l":43,"q":0.058,"u":0.183,"d":-0.108},{"p":9,"l":44,"q":0,"u":0.078,"d":-0.06},{"p":9,"l":45,"q":0,"u":0.06,"d":-0.056},{"p":9,"l":46,"q":0,"u":0,"d":-0.056},{"p":9,"l":47,"q":0,"u":0.009,"d":-0.056},{"p":9,"l":48,"q":0,"u":0.172,"d":-0.054},{"p":9,"l":49,"q":0.058,"u":0.191,"d":-0.108},{"p":9,"l":50,"q":0,"u":0.172,"d":-0.06},
{"p":9,"l":51,"q":0.177,"u":0.108,"d":-0.215},{"p":9,"l":52,"q":0.177,"u":0.09,"d":-0.207},{"p":9,"l":53,"q":0.177,"u":0.215,"d":-0.138},{"p":9,"l":54,"q":0.058,"u":0.174,"d":-0.034},{"p":9,"l":55,"q":0.058,"u":0.034,"d":-0.103},{"p":9,"l":56,"q":0.116,"u":0.073,"d":-0.168},{"p":9,"l":57,"q":0.215,"u":0.026,"d":-0.112},{"p":9,"l":58,"q":0.058,"u":0.065,"d":-0.114},{"p":9,"l":59,"q":0.116,"u":0.168,"d":-0.155},{"p":9,"l":60,"q":0.058,"u":0.138,"d":-0.108},
{"p":10,"l":1,"q":0.008,"u":0.19,"d":-0.056},{"p":10,"l":2,"q":-0.056,"u":0.168,"d":-0.004},{"p":10,"l":3,"q":-0.056,"u":0.043,"d":-0.004},{"p":10,"l":4,"q":-0.056,"u":0.004,"d":-0.004},{"p":10,"l":5,"q":-0.056,"u":0.022,"d":-0.004},{"p":10,"l":6,"q":-0.056,"u":0.134,"d":-0.004},{"p":10,"l":7,"q":0.005,"u":0.095,"d":-0.056},{"p":10,"l":8,"q":-0.056,"u":-0.004,"d":-0.004},{"p":10,"l":9,"q":-0.056,"u":0.034,"d":-0.004},{"p":10,"l":10,"q":-0.056,"u":0.088,"d":-0.004},
{"p":10,"l":11,"q":-0.056,"u":0.004,"d":-0.004},{"p":10,"l":12,"q":-0.056,"u":0.034,"d":-0.004},{"p":10,"l":13,"q":0.065,"u":0.091,"d":-0.121},{"p":10,"l":14,"q":0.01,"u":-0.009,"d":-0.065},{"p":10,"l":15,"q":0.016,"u":0.088,"d":-0.069},{"p":10,"l":16,"q":0.016,"u":0.034,"d":-0.073},{"p":10,"l":17,"q":-0.047,"u":0.086,"d":-0.026},{"p":10,"l":18,"q":0.024,"u":0.099,"d":-0.082},{"p":10,"l":19,"q":0.024,"u":0.203,"d":-0.079},{"p":10,"l":20,"q":-0.047,"u":0.095,"d":-0.009},
{"p":10,"l":21,"q":-0.047,"u":-0.017,"d":-0.013},{"p":10,"l":22,"q":-0.047,"u":0.159,"d":-0.09},{"p":10,"l":23,"q":0.035,"u":-0.013,"d":-0.017},{"p":10,"l":24,"q":-0.047,"u":0.194,"d":-0.095},{"p":10,"l":25,"q":0.043,"u":0.009,"d":-0.095},{"p":10,"l":26,"q":0.043,"u":0.022,"d":0.013},{"p":10,"l":27,"q":-0.04,"u":-0.013,"d":-0.022},{"p":10,"l":28,"q":-0.04,"u":-0.01,"d":-0.022},{"p":10,"l":29,"q":-0.04,"u":-0.017,"d":-0.039},{"p":10,"l":30,"q":-0.04,"u":0.147,"d":-0.116},
{"p":10,"l":31,"q":0.12,"u":0.039,"d":-0.017},{"p":10,"l":32,"q":-0.04,"u":0.004,"d":-0.026},{"p":10,"l":33,"q":-0.04,"u":0.181,"d":-0.078},{"p":10,"l":34,"q":0.047,"u":0.034,"d":-0.103},{"p":10,"l":35,"q":0.047,"u":0.059,"d":-0.108},{"p":10,"l":36,"q":-0.035,"u":-0.017,"d":-0.03},{"p":10,"l":37,"q":-0.035,"u":0.043,"d":-0.028},{"p":10,"l":38,"q":-0.035,"u":0.138,"d":-0.028},{"p":10,"l":39,"q":-0.035,"u":0,"d":-0.028},{"p":10,"l":40,"q":-0.035,"u":-0.026,"d":-0.026},
{"p":10,"l":41,"q":0.065,"u":0.052,"d":-0.121},{"p":10,"l":42,"q":-0.035,"u":-0.013,"d":-0.013},{"p":10,"l":43,"q":0.065,"u":0.069,"d":-0.121},{"p":10,"l":44,"q":-0.035,"u":0.091,"d":-0.026},{"p":10,"l":45,"q":-0.035,"u":-0.022,"d":-0.03},{"p":10,"l":46,"q":-0.035,"u":-0.026,"d":-0.03},{"p":10,"l":47,"q":-0.035,"u":0.168,"d":-0.03},{"p":10,"l":48,"q":-0.035,"u":0.155,"d":-0.032},{"p":10,"l":49,"q":0.17,"u":0.095,"d":-0.159},{"p":10,"l":50,"q":-0.03,"u":0.134,"d":-0.03},
{"p":10,"l":51,"q":-0.03,"u":0.095,"d":-0.03},{"p":10,"l":52,"q":-0.03,"u":-0.009,"d":-0.03},{"p":10,"l":53,"q":-0.03,"u":0.099,"d":-0.03},{"p":10,"l":54,"q":-0.03,"u":0.102,"d":-0.03},{"p":10,"l":55,"q":-0.03,"u":0.159,"d":-0.03},{"p":10,"l":56,"q":-0.03,"u":0.134,"d":-0.03},{"p":10,"l":57,"q":-0.03,"u":-0.017,"d":-0.03},{"p":10,"l":58,"q":-0.03,"u":0.069,"d":-0.03},{"p":10,"l":59,"q":0.069,"u":0.142,"d":-0.06},{"p":10,"l":60,"q":0.069,"u":0.082,"d":-0.125}
]},
"vconcat":[
{"vconcat":[
{"hconcat":[
{"title":"Cameroon to Oil Price","width":392,"height":167,"transform":[{"filter":"datum.p==1"}],"encoding":{"x":{"field":"l","type":"quantitative","scale":{"domain":[-1.36,62.36],"nice":false,"zero":false},"axis":{"values":[0,10,20,30,40,50,60],"title":"Lag"}}},"layer":[{"mark":{"type":"rule","color":"#000","strokeWidth":1.3,"clip":true},"encoding":{"y":{"field":"q","type":"quantitative","scale":{"domain":[-0.216,0.216],"nice":false,"zero":false},"axis":{"values":[-0.2,-0.1,0,0.1,0.2],"labelExpr":"datum.value < -0.15 ? '-0.2' : datum.value > 0.15 ? '0.2' : abs(datum.value) < 0.01 ? '0.0' : ''","title":"Quantilogram"}},"y2":{"datum":0}}},{"mark":{"type":"rule","color":"#000","strokeWidth":1.5},"encoding":{"y":{"datum":0},"x":{"datum":-1.36},"x2":{"datum":62.36}}},{"mark":{"type":"line","color":"#ff0000","strokeWidth":1.2,"clip":true},"encoding":{"y":{"field":"u","type":"quantitative","title":"Quantilogram"}}},{"mark":{"type":"line","color":"#ff0000","strokeWidth":1.2,"clip":true},"encoding":{"y":{"field":"d","type":"quantitative","title":"Quantilogram"}}}]},
{"title":"Oil Price to Cameroon","width":390,"height":167,"transform":[{"filter":"datum.p==2"}],"encoding":{"x":{"field":"l","type":"quantitative","scale":{"domain":[-1.36,62.36],"nice":false,"zero":false},"axis":{"values":[0,10,20,30,40,50,60],"title":"Lag"}}},"layer":[{"mark":{"type":"rule","color":"#000","strokeWidth":1.3,"clip":true},"encoding":{"y":{"field":"q","type":"quantitative","scale":{"domain":[-0.216,0.216],"nice":false,"zero":false},"axis":{"values":[-0.2,-0.1,0,0.1,0.2],"labelExpr":"datum.value < -0.15 ? '-0.2' : datum.value > 0.15 ? '0.2' : abs(datum.value) < 0.01 ? '0.0' : ''","title":"Quantilogram"}},"y2":{"datum":0}}},{"mark":{"type":"rule","color":"#000","strokeWidth":1.5},"encoding":{"y":{"datum":0},"x":{"datum":-1.36},"x2":{"datum":62.36}}},{"mark":{"type":"line","color":"#ff0000","strokeWidth":1.2,"clip":true},"encoding":{"y":{"field":"u","type":"quantitative","title":"Quantilogram"}}},{"mark":{"type":"line","color":"#ff0000","strokeWidth":1.2,"clip":true},"encoding":{"y":{"field":"d","type":"quantitative","title":"Quantilogram"}}}]}
],"spacing":58},
{"hconcat":[
{"title":"Chad to Oil Price","width":395,"height":167,"transform":[{"filter":"datum.p==3"}],"encoding":{"x":{"field":"l","type":"quantitative","scale":{"domain":[-1.36,62.36],"nice":false,"zero":false},"axis":{"values":[0,10,20,30,40,50,60],"title":"Lag"}}},"layer":[{"mark":{"type":"rule","color":"#000","strokeWidth":1.3,"clip":true},"encoding":{"y":{"field":"q","type":"quantitative","scale":{"domain":[-0.216,0.216],"nice":false,"zero":false},"axis":{"values":[-0.2,-0.1,0,0.1,0.2],"labelExpr":"datum.value < -0.15 ? '-0.2' : datum.value > 0.15 ? '0.2' : abs(datum.value) < 0.01 ? '0.0' : ''","title":"Quantilogram"}},"y2":{"datum":0}}},{"mark":{"type":"rule","color":"#000","strokeWidth":1.5},"encoding":{"y":{"datum":0},"x":{"datum":-1.36},"x2":{"datum":62.36}}},{"mark":{"type":"line","color":"#ff0000","strokeWidth":1.2,"clip":true},"encoding":{"y":{"field":"u","type":"quantitative","title":"Quantilogram"}}},{"mark":{"type":"line","color":"#ff0000","strokeWidth":1.2,"clip":true},"encoding":{"y":{"field":"d","type":"quantitative","title":"Quantilogram"}}}]},
{"title":"Oil Price to Chad","width":393,"height":167,"transform":[{"filter":"datum.p==4"}],"encoding":{"x":{"field":"l","type":"quantitative","scale":{"domain":[-1.36,62.36],"nice":false,"zero":false},"axis":{"values":[0,10,20,30,40,50,60],"title":"Lag"}}},"layer":[{"mark":{"type":"rule","color":"#000","strokeWidth":1.3,"clip":true},"encoding":{"y":{"field":"q","type":"quantitative","scale":{"domain":[-0.216,0.216],"nice":false,"zero":false},"axis":{"values":[-0.2,-0.1,0,0.1,0.2],"labelExpr":"datum.value < -0.15 ? '-0.2' : datum.value > 0.15 ? '0.2' : abs(datum.value) < 0.01 ? '0.0' : ''","title":"Quantilogram"}},"y2":{"datum":0}}},{"mark":{"type":"rule","color":"#000","strokeWidth":1.5},"encoding":{"y":{"datum":0},"x":{"datum":-1.36},"x2":{"datum":62.36}}},{"mark":{"type":"line","color":"#ff0000","strokeWidth":1.2,"clip":true},"encoding":{"y":{"field":"u","type":"quantitative","title":"Quantilogram"}}},{"mark":{"type":"line","color":"#ff0000","strokeWidth":1.2,"clip":true},"encoding":{"y":{"field":"d","type":"quantitative","title":"Quantilogram"}}}]}
],"spacing":59},
{"hconcat":[
{"title":"Congo to Oil Price","width":395,"height":167,"transform":[{"filter":"datum.p==5"}],"encoding":{"x":{"field":"l","type":"quantitative","scale":{"domain":[-1.36,62.36],"nice":false,"zero":false},"axis":{"values":[0,10,20,30,40,50,60],"title":"Lag"}}},"layer":[{"mark":{"type":"rule","color":"#000","strokeWidth":1.3,"clip":true},"encoding":{"y":{"field":"q","type":"quantitative","scale":{"domain":[-0.216,0.216],"nice":false,"zero":false},"axis":{"values":[-0.2,-0.1,0,0.1,0.2],"labelExpr":"datum.value < -0.15 ? '-0.2' : datum.value > 0.15 ? '0.2' : abs(datum.value) < 0.01 ? '0.0' : ''","title":"Quantilogram"}},"y2":{"datum":0}}},{"mark":{"type":"rule","color":"#000","strokeWidth":1.5},"encoding":{"y":{"datum":0},"x":{"datum":-1.36},"x2":{"datum":62.36}}},{"mark":{"type":"line","color":"#ff0000","strokeWidth":1.2,"clip":true},"encoding":{"y":{"field":"u","type":"quantitative","title":"Quantilogram"}}},{"mark":{"type":"line","color":"#ff0000","strokeWidth":1.2,"clip":true},"encoding":{"y":{"field":"d","type":"quantitative","title":"Quantilogram"}}}]},
{"title":"Oil Price to Congo","width":392,"height":167,"transform":[{"filter":"datum.p==6"}],"encoding":{"x":{"field":"l","type":"quantitative","scale":{"domain":[-1.36,62.36],"nice":false,"zero":false},"axis":{"values":[0,10,20,30,40,50,60],"title":"Lag"}}},"layer":[{"mark":{"type":"rule","color":"#000","strokeWidth":1.3,"clip":true},"encoding":{"y":{"field":"q","type":"quantitative","scale":{"domain":[-0.216,0.216],"nice":false,"zero":false},"axis":{"values":[-0.2,-0.1,0,0.1,0.2],"labelExpr":"datum.value < -0.15 ? '-0.2' : datum.value > 0.15 ? '0.2' : abs(datum.value) < 0.01 ? '0.0' : ''","title":"Quantilogram"}},"y2":{"datum":0}}},{"mark":{"type":"rule","color":"#000","strokeWidth":1.5},"encoding":{"y":{"datum":0},"x":{"datum":-1.36},"x2":{"datum":62.36}}},{"mark":{"type":"line","color":"#ff0000","strokeWidth":1.2,"clip":true},"encoding":{"y":{"field":"u","type":"quantitative","title":"Quantilogram"}}},{"mark":{"type":"line","color":"#ff0000","strokeWidth":1.2,"clip":true},"encoding":{"y":{"field":"d","type":"quantitative","title":"Quantilogram"}}}]}
],"spacing":59},
{"hconcat":[
{"title":"Equitorial Guinea to Oil Price","width":385,"height":167,"transform":[{"filter":"datum.p==7"}],"encoding":{"x":{"field":"l","type":"quantitative","scale":{"domain":[-1.36,62.36],"nice":false,"zero":false},"axis":{"values":[0,10,20,30,40,50,60],"title":"Lag"}}},"layer":[{"mark":{"type":"rule","color":"#000","strokeWidth":1.3,"clip":true},"encoding":{"y":{"field":"q","type":"quantitative","scale":{"domain":[-0.216,0.216],"nice":false,"zero":false},"axis":{"values":[-0.2,-0.1,0,0.1,0.2],"labelExpr":"datum.value < -0.15 ? '-0.2' : datum.value > 0.15 ? '0.2' : abs(datum.value) < 0.01 ? '0.0' : ''","title":"Quantilogram"}},"y2":{"datum":0}}},{"mark":{"type":"rule","color":"#000","strokeWidth":1.5},"encoding":{"y":{"datum":0},"x":{"datum":-1.36},"x2":{"datum":62.36}}},{"mark":{"type":"line","color":"#ff0000","strokeWidth":1.2,"clip":true},"encoding":{"y":{"field":"u","type":"quantitative","title":"Quantilogram"}}},{"mark":{"type":"line","color":"#ff0000","strokeWidth":1.2,"clip":true},"encoding":{"y":{"field":"d","type":"quantitative","title":"Quantilogram"}}}]},
{"title":"Oil Price to Equitorial Guinea","width":384,"height":167,"transform":[{"filter":"datum.p==8"}],"encoding":{"x":{"field":"l","type":"quantitative","scale":{"domain":[-1.36,62.36],"nice":false,"zero":false},"axis":{"values":[0,10,20,30,40,50,60],"title":"Lag"}}},"layer":[{"mark":{"type":"rule","color":"#000","strokeWidth":1.3,"clip":true},"encoding":{"y":{"field":"q","type":"quantitative","scale":{"domain":[-0.216,0.216],"nice":false,"zero":false},"axis":{"values":[-0.2,-0.1,0,0.1,0.2],"labelExpr":"datum.value < -0.15 ? '-0.2' : datum.value > 0.15 ? '0.2' : abs(datum.value) < 0.01 ? '0.0' : ''","title":"Quantilogram"}},"y2":{"datum":0}}},{"mark":{"type":"rule","color":"#000","strokeWidth":1.5},"encoding":{"y":{"datum":0},"x":{"datum":-1.36},"x2":{"datum":62.36}}},{"mark":{"type":"line","color":"#ff0000","strokeWidth":1.2,"clip":true},"encoding":{"y":{"field":"u","type":"quantitative","title":"Quantilogram"}}},{"mark":{"type":"line","color":"#ff0000","strokeWidth":1.2,"clip":true},"encoding":{"y":{"field":"d","type":"quantitative","title":"Quantilogram"}}}]}
],"spacing":55}
],"spacing":11},
{"hconcat":[
{"title":"Gabon to Oil Price","width":382,"height":167,"transform":[{"filter":"datum.p==9"}],"encoding":{"x":{"field":"l","type":"quantitative","scale":{"domain":[-1.36,62.36],"nice":false,"zero":false},"axis":{"values":[0,10,20,30,40,50,60],"title":"Lag"}}},"layer":[{"mark":{"type":"rule","color":"#000","strokeWidth":1.3,"clip":true},"encoding":{"y":{"field":"q","type":"quantitative","scale":{"domain":[-0.216,0.216],"nice":false,"zero":false},"axis":{"values":[-0.2,-0.1,0,0.1,0.2],"labelExpr":"datum.value < -0.15 ? '-0.2' : datum.value > 0.15 ? '0.2' : abs(datum.value) < 0.01 ? '0.0' : ''","title":"Quantilogram"}},"y2":{"datum":0}}},{"mark":{"type":"rule","color":"#000","strokeWidth":1.5},"encoding":{"y":{"datum":0},"x":{"datum":-1.36},"x2":{"datum":62.36}}},{"mark":{"type":"line","color":"#ff0000","strokeWidth":1.2,"clip":true},"encoding":{"y":{"field":"u","type":"quantitative","title":"Quantilogram"}}},{"mark":{"type":"line","color":"#ff0000","strokeWidth":1.2,"clip":true},"encoding":{"y":{"field":"d","type":"quantitative","title":"Quantilogram"}}}]},
{"title":"Oil Price to Gabon","width":381,"height":167,"transform":[{"filter":"datum.p==10"}],"encoding":{"x":{"field":"l","type":"quantitative","scale":{"domain":[-1.36,62.36],"nice":false,"zero":false},"axis":{"values":[0,10,20,30,40,50,60],"title":"Lag"}}},"layer":[{"mark":{"type":"rule","color":"#000","strokeWidth":1.3,"clip":true},"encoding":{"y":{"field":"q","type":"quantitative","scale":{"domain":[-0.216,0.216],"nice":false,"zero":false},"axis":{"values":[-0.2,-0.1,0,0.1,0.2],"labelExpr":"datum.value < -0.15 ? '-0.2' : datum.value > 0.15 ? '0.2' : abs(datum.value) < 0.01 ? '0.0' : ''","title":"Quantilogram"}},"y2":{"datum":0}}},{"mark":{"type":"rule","color":"#000","strokeWidth":1.5},"encoding":{"y":{"datum":0},"x":{"datum":-1.36},"x2":{"datum":62.36}}},{"mark":{"type":"line","color":"#ff0000","strokeWidth":1.2,"clip":true},"encoding":{"y":{"field":"u","type":"quantitative","title":"Quantilogram"}}},{"mark":{"type":"line","color":"#ff0000","strokeWidth":1.2,"clip":true},"encoding":{"y":{"field":"d","type":"quantitative","title":"Quantilogram"}}}]}
],"spacing":52}
],
"spacing":54,
"config":{
"view":{"stroke":"#222","strokeWidth":1.3},
"font":"Liberation Sans",
"axis":{"domain":false,"grid":false,"tickSize":12,"tickColor":"#222","tickWidth":1.3,"labelFont":"Liberation Sans","labelFontSize":22,"labelColor":"#000","titleFont":"Liberation Sans","titleFontSize":23,"titleFontWeight":"normal","titleColor":"#000","labelFlush":false,"labelOverlap":false},
"axisX":{"labelPadding":18,"titlePadding":35},
"axisY":{"labelAngle":-90,"labelPadding":18,"titlePadding":27},
"title":{"font":"Liberation Sans","fontSize":26,"fontWeight":"bold","color":"#000","offset":37,"frame":"group","anchor":"middle"}
}
}
